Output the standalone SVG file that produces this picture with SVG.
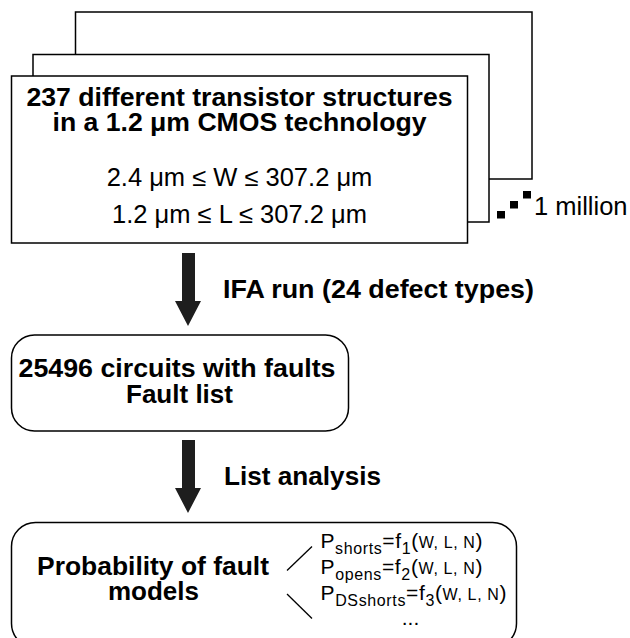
<svg xmlns="http://www.w3.org/2000/svg" width="630" height="638" viewBox="0 0 630 638">
<style>
.box{fill:#fff;stroke:#000;stroke-width:1.5}
.b{font-family:"Liberation Sans",Arial,sans-serif;font-weight:bold;font-size:25px;fill:#000}
.r{font-family:"Liberation Sans",Arial,sans-serif;font-size:25.5px;fill:#000}
.f{font-family:"Liberation Sans",Arial,sans-serif;font-size:21px;fill:#000}
.s{font-size:16px}
.arrow{fill:#1e1e1e}
.sq{fill:#000}
.ln{stroke:#000;stroke-width:1.3;fill:none}
</style>
<g id="structures">
  <rect class="box" x="75.5" y="12" width="456.5" height="167"/>
  <rect class="box" x="33" y="54.5" width="456" height="167.5"/>
  <rect class="box" x="11.5" y="76" width="456" height="167"/>
  <text class="b" x="239.5" y="106" text-anchor="middle" textLength="426" lengthAdjust="spacingAndGlyphs">237 different transistor structures</text>
  <text class="b" x="239.5" y="131" text-anchor="middle" textLength="374" lengthAdjust="spacingAndGlyphs">in a 1.2 μm CMOS technology</text>
  <text class="r" x="239.5" y="186" text-anchor="middle">2.4 μm ≤ W ≤ 307.2 μm</text>
  <text class="r" x="239.5" y="223" text-anchor="middle">1.2 μm ≤ L ≤ 307.2 μm</text>
</g>
<g id="million">
  <rect class="sq" x="497" y="211" width="8" height="7.5"/>
  <rect class="sq" x="510" y="201" width="8" height="7.5"/>
  <rect class="sq" x="523" y="191" width="8" height="7.5"/>
  <text class="r" x="534" y="215" font-size="25.6">1 million</text>
</g>
<g id="circuits">
  <rect class="box" x="11.5" y="335" width="337" height="96" rx="23" ry="23"/>
  <text class="b" x="177" y="377" text-anchor="middle" textLength="317" lengthAdjust="spacingAndGlyphs">25496 circuits with faults</text>
  <text class="b" x="179.5" y="403" text-anchor="middle" textLength="107" lengthAdjust="spacingAndGlyphs">Fault list</text>
</g>
<g id="models">
  <rect class="box" x="11.5" y="522.5" width="505" height="125" rx="24" ry="24"/>
  <text class="b" x="153" y="575" text-anchor="middle" textLength="232" lengthAdjust="spacingAndGlyphs">Probability of fault</text>
  <text class="b" x="153.5" y="600" text-anchor="middle" textLength="91" lengthAdjust="spacingAndGlyphs">models</text>
  <line class="ln" x1="287" y1="570.5" x2="312" y2="546.5"/>
  <line class="ln" x1="287" y1="594" x2="312" y2="618.5"/>
  <text class="f" x="320.5" y="548" textLength="162" lengthAdjust="spacing">P<tspan class="s" dy="5.5">shorts</tspan><tspan dy="-5.5">=f</tspan><tspan class="s" dy="5.5">1</tspan><tspan dy="-5.5">(</tspan><tspan class="s">W, L, N</tspan>)</text>
  <text class="f" x="320.5" y="574" textLength="162" lengthAdjust="spacing">P<tspan class="s" dy="5.5">opens</tspan><tspan dy="-5.5">=f</tspan><tspan class="s" dy="5.5">2</tspan><tspan dy="-5.5">(</tspan><tspan class="s">W, L, N</tspan>)</text>
  <text class="f" x="320.5" y="600" textLength="186" lengthAdjust="spacing">P<tspan class="s" dy="5.5">DSshorts</tspan><tspan dy="-5.5">=f</tspan><tspan class="s" dy="5.5">3</tspan><tspan dy="-5.5">(</tspan><tspan class="s">W, L, N</tspan>)</text>
  <text class="f" x="410.5" y="625" text-anchor="middle">...</text>
</g>
<g id="connectors">
  <polygon class="arrow" points="182,253 195,253 195,301 201,301 188,326 175,301 182,301"/>
  <text class="b" x="223" y="298" textLength="311" lengthAdjust="spacingAndGlyphs">IFA run (24 defect types)</text>
  <polygon class="arrow" points="182,440 195,440 195,488 201,488 188,513 175,488 182,488"/>
  <text class="b" x="224" y="485" textLength="157" lengthAdjust="spacingAndGlyphs">List analysis</text>
</g>
</svg>
